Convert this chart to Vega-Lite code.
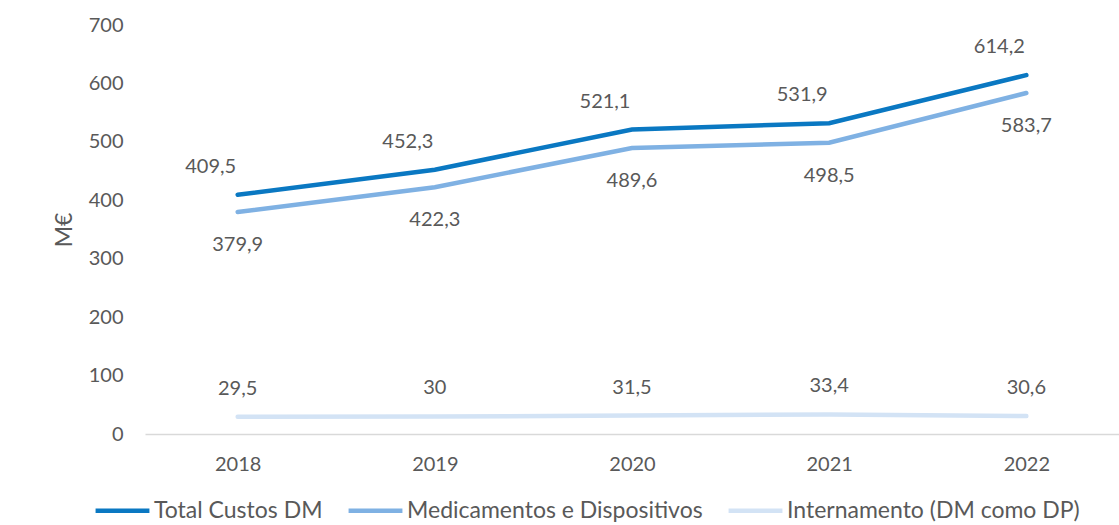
{
  "$schema": "https://vega.github.io/schema/vega-lite/v6.json",
  "width": 974,
  "height": 409,
  "autosize": {"type": "none"},
  "padding": {"left": 145, "top": 25, "right": 0, "bottom": 91},
  "background": "white",
  "config": {
    "view": {"stroke": null},
    "font": "Lato",
    "locale": {"number": {"decimal": ",", "thousands": ".", "grouping": [3], "currency": ["", " €"]}}
  },
  "data": {
    "values": [
      {"ano": "2018", "serie": "Total Custos DM", "valor": 409.5},
      {"ano": "2019", "serie": "Total Custos DM", "valor": 452.3},
      {"ano": "2020", "serie": "Total Custos DM", "valor": 521.1},
      {"ano": "2021", "serie": "Total Custos DM", "valor": 531.9},
      {"ano": "2022", "serie": "Total Custos DM", "valor": 614.2},
      {"ano": "2018", "serie": "Medicamentos e Dispositivos", "valor": 379.9},
      {"ano": "2019", "serie": "Medicamentos e Dispositivos", "valor": 422.3},
      {"ano": "2020", "serie": "Medicamentos e Dispositivos", "valor": 489.6},
      {"ano": "2021", "serie": "Medicamentos e Dispositivos", "valor": 498.5},
      {"ano": "2022", "serie": "Medicamentos e Dispositivos", "valor": 583.7},
      {"ano": "2018", "serie": "Internamento (DM como DP)", "valor": 29.5},
      {"ano": "2019", "serie": "Internamento (DM como DP)", "valor": 30},
      {"ano": "2020", "serie": "Internamento (DM como DP)", "valor": 31.5},
      {"ano": "2021", "serie": "Internamento (DM como DP)", "valor": 33.4},
      {"ano": "2022", "serie": "Internamento (DM como DP)", "valor": 30.6}
    ]
  },
  "encoding": {
    "x": {
      "field": "ano", "type": "ordinal",
      "scale": {"type": "point", "padding": 0.47},
      "axis": {
        "title": null, "labelAngle": 0, "ticks": false, "grid": false,
        "domainColor": "#d9d9d9", "domainWidth": 1.5,
        "labelFontSize": 20, "labelColor": "#595959", "labelPadding": 20
      }
    },
    "y": {
      "field": "valor", "type": "quantitative",
      "scale": {"domain": [0, 700]},
      "axis": {
        "title": "M€", "titleFontSize": 23, "titleFontWeight": "normal", "titleColor": "#595959", "titlePadding": 12,
        "values": [0, 100, 200, 300, 400, 500, 600, 700],
        "domain": false, "ticks": false, "grid": false,
        "labelFontSize": 20, "labelColor": "#595959", "labelPadding": 22
      }
    }
  },
  "layer": [
    {
      "mark": {"type": "line", "strokeWidth": 4.5, "strokeCap": "round"},
      "encoding": {
        "color": {
          "field": "serie", "type": "nominal",
          "scale": {
            "domain": ["Total Custos DM", "Medicamentos e Dispositivos", "Internamento (DM como DP)"],
            "range": ["#0a78c2", "#7fb1e3", "#d3e3f5"]
          },
          "legend": {
            "title": null, "orient": "none", "direction": "horizontal",
            "legendX": -52, "legendY": 456,
            "symbolType": "stroke", "symbolSize": 2900, "symbolStrokeWidth": 4.5,
            "labelFontSize": 23, "labelColor": "#595959", "labelOffset": 2,
            "columnPadding": 16, "labelLimit": 400
          }
        }
      }
    },
    {
      "transform": [{"filter": "datum.serie === 'Total Custos DM'"}],
      "mark": {"type": "text", "dy": -28, "dx": -27, "fontSize": 20, "color": "#595959"},
      "encoding": {"text": {"field": "valor", "type": "quantitative", "format": ".4~g"}}
    },
    {
      "transform": [{"filter": "datum.serie === 'Medicamentos e Dispositivos'"}],
      "mark": {"type": "text", "dy": 33, "fontSize": 20, "color": "#595959"},
      "encoding": {"text": {"field": "valor", "type": "quantitative", "format": ".4~g"}}
    },
    {
      "transform": [{"filter": "datum.serie === 'Internamento (DM como DP)'"}],
      "mark": {"type": "text", "dy": -28, "fontSize": 20, "color": "#595959"},
      "encoding": {"text": {"field": "valor", "type": "quantitative", "format": ".4~g"}}
    }
  ]
}
